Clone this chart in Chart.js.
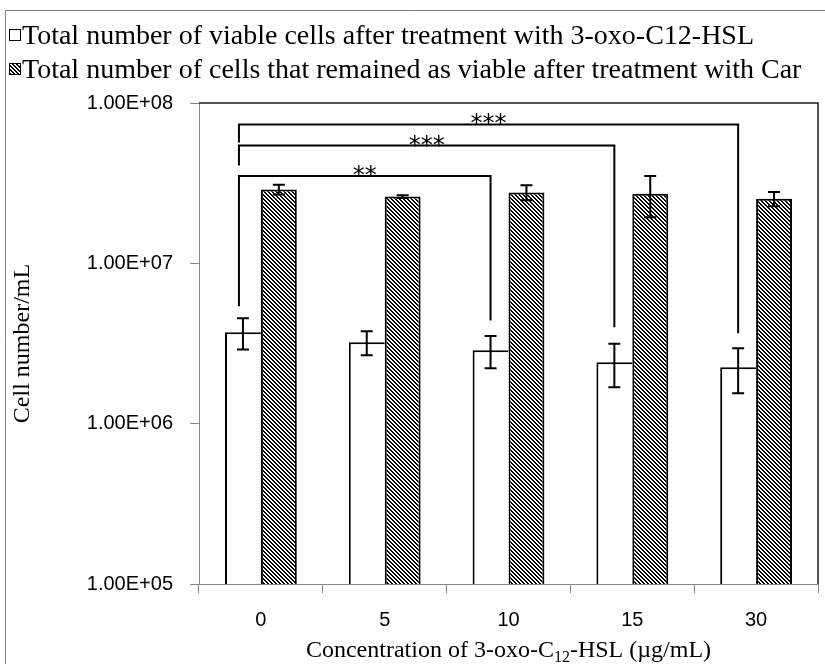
<!DOCTYPE html>
<html>
<head>
<meta charset="utf-8">
<script src="https://cdn.jsdelivr.net/npm/chart.js@4.4.0/dist/chart.umd.min.js"></script>
<style>
  html, body { margin: 0; padding: 0; background: #fff; }
  #wrap { width: 825px; height: 664px; }
</style>
</head>
<body>
<div id="wrap"><canvas id="myChart" width="825" height="664"></canvas></div>
<script>
const concentrations = ["0", "5", "10", "15", "30"];
const hslCells = [3.72e6, 3.22e6, 2.87e6, 2.42e6, 2.25e6];
const hslErr = [0.82e6, 0.55e6, 0.65e6, 0.73e6, 0.7e6];
const carCells = [2.89e7, 2.61e7, 2.77e7, 2.72e7, 2.53e7];
const carErr = [0.2e7, 0.05e7, 0.3e7, 0.78e7, 0.26e7];
const yTicks = [1e5, 1e6, 1e7, 1e8];

// significance brackets (group indexes, heights in cells/mL)
const bracketFrom = [0, 0, 0];
const bracketTo = [2, 3, 4];
const bracketTop = [3.5e7, 5.43e7, 7.35e7];
const bracketLeftEnd = [5.4e6, 4.08e7, 5.68e7];
const bracketRightEnd = [4.4e6, 3.99e6, 3.66e6];
const bracketLabel = ["**", "***", "***"];

const serif = "'Liberation Serif', 'Times New Roman', serif";
const sans = "'Liberation Sans Narrow', 'Liberation Sans', sans-serif";

const canvas = document.getElementById("myChart");
const ctx = canvas.getContext("2d");

// hatch pattern for the Car bars
function makeHatch() {
  const tile = document.createElement("canvas");
  tile.width = 4;
  tile.height = 4;
  const g = tile.getContext("2d");
  g.fillStyle = "#fff";
  g.fillRect(0, 0, 4, 4);
  g.fillStyle = "#000";
  for (let i = 0; i < 4; i++) {
    g.fillRect(i, i, 1, 1);
    g.fillRect((i + 1) % 4, i, 1, 1);
  }
  return ctx.createPattern(tile, "repeat");
}
const hatch = makeHatch();

function excelSci(v) {
  const parts = v.toExponential(2).split("e");
  const n = parseInt(parts[1], 10);
  return parts[0] + "E" + (n < 0 ? "-" : "+") + String(Math.abs(n)).padStart(2, "0");
}

// Legend ----------------------------------
const legendBoxes = {
  id: "legendBoxes",
  afterDraw(chart) {
    const c = chart.ctx;
    c.save();
    chart.data.datasets.forEach((ds, i) => {
      const base = 44 + i * 34;
      c.fillStyle = ds.backgroundColor;
      c.fillRect(9, base - 15, 12, 12);
      c.strokeStyle = "#000";
      c.lineWidth = 1;
      c.strokeRect(9.5, base - 14.5, 11, 11);
      c.fillStyle = "#000";
      c.font = "28px " + serif;
      c.textBaseline = "alphabetic";
      c.fillText(ds.label, 22, base);
    });
    c.restore();
  },
};

// Error bars ------------------------------
const errorBars = {
  id: "errorBars",
  afterDatasetsDraw(chart) {
    const c = chart.ctx;
    const y = chart.scales.y;
    c.save();
    c.strokeStyle = "#000";
    c.lineWidth = 2;
    [hslErr, carErr].forEach((err, d) => {
      const vals = chart.data.datasets[d].data;
      chart.getDatasetMeta(d).data.forEach((bar, i) => {
        const top = y.getPixelForValue(vals[i] + err[i]);
        const bot = y.getPixelForValue(vals[i] - err[i]);
        c.beginPath();
        c.moveTo(bar.x, top);
        c.lineTo(bar.x, bot);
        c.moveTo(bar.x - 6, top);
        c.lineTo(bar.x + 6, top);
        c.moveTo(bar.x - 6, bot);
        c.lineTo(bar.x + 6, bot);
        c.stroke();
      });
    });
    c.restore();
  },
};

// Significance brackets + frame + x title --
const extras = {
  id: "extras",
  afterDraw(chart) {
    const c = chart.ctx;
    const y = chart.scales.y;
    const area = chart.chartArea;
    const bars = chart.getDatasetMeta(0).data;
    c.save();
    // plot frame top / right
    c.strokeStyle = "#1a1a1a";
    c.lineWidth = 1.5;
    c.beginPath();
    c.moveTo(area.left, area.top);
    c.lineTo(area.right, area.top);
    c.lineTo(area.right, area.bottom);
    c.stroke();
    // outer border
    c.strokeStyle = "#7f7f7f";
    c.lineWidth = 1;
    c.beginPath();
    c.moveTo(5.5, chart.height);
    c.lineTo(5.5, 10.5);
    c.lineTo(chart.width, 10.5);
    c.stroke();
    // brackets
    c.strokeStyle = "#000";
    c.lineWidth = 2;
    c.fillStyle = "#000";
    c.font = "24px 'DejaVu Sans', sans-serif";
    c.textAlign = "center";
    c.textBaseline = "alphabetic";
    bracketLabel.forEach((lab, k) => {
      const x0 = bars[bracketFrom[k]].x - 4;
      const x1 = bars[bracketTo[k]].x;
      const yt = y.getPixelForValue(bracketTop[k]);
      c.beginPath();
      c.moveTo(x0, y.getPixelForValue(bracketLeftEnd[k]));
      c.lineTo(x0, yt);
      c.lineTo(x1, yt);
      c.lineTo(x1, y.getPixelForValue(bracketRightEnd[k]));
      c.stroke();
      c.fillText(lab, (x0 + x1) / 2, yt + 7);
    });
    // x axis title with subscript
    const partA = "Concentration of 3-oxo-C";
    const sub = "12";
    const partB = "-HSL (\u00b5g/mL)";
    c.textAlign = "left";
    c.font = "24px " + serif;
    const wA = c.measureText(partA).width;
    const wB = c.measureText(partB).width;
    c.font = "16px " + serif;
    const wS = c.measureText(sub).width;
    const x = (area.left + area.right) / 2 - (wA + wS + wB) / 2;
    const base = 657;
    c.font = "24px " + serif;
    c.fillText(partA, x, base);
    c.fillText(partB, x + wA + wS, base);
    c.font = "16px " + serif;
    c.fillText(sub, x + wA, base + 5);
    c.restore();
  },
};

const myChart = new Chart(ctx, {
  type: "bar",
  data: {
    labels: concentrations,
    datasets: [
      {
        label: "Total number of viable cells after treatment with 3-oxo-C12-HSL",
        data: hslCells,
        backgroundColor: "#ffffff",
        borderColor: "#000",
        borderWidth: { left: 2, top: 2, right: 0, bottom: 0 },
        borderSkipped: false,
        barPercentage: 1,
        categoryPercentage: 0.58,
      },
      {
        label: "Total number of cells that remained as viable after treatment with Car",
        data: carCells,
        backgroundColor: hatch,
        borderColor: "#000",
        borderWidth: 2,
        barPercentage: 1,
        categoryPercentage: 0.58,
      },
    ],
  },
  options: {
    responsive: false,
    animation: false,
    events: [],
    layout: { padding: { left: 8, top: 103, right: 7, bottom: 0 } },
    scales: {
      x: {
        offset: true,
        grid: { offset: true, drawOnChartArea: false, tickLength: 9, color: "#868686" },
        border: { color: "#868686" },
        ticks: { color: "#000", font: { family: sans, size: 20 }, padding: 15 },
        afterFit(scale) {
          scale.height = 80;
        },
      },
      y: {
        type: "logarithmic",
        min: 1e5,
        max: 1e8,
        afterBuildTicks(scale) {
          scale.ticks = yTicks.map((v) => ({ value: v }));
        },
        afterFit(scale) {
          scale.width = 191;
        },
        grid: { drawOnChartArea: false, tickLength: 9, color: "#868686" },
        border: { color: "#868686" },
        ticks: {
          color: "#000",
          font: { family: sans, size: 20 },
          padding: 17,
          callback: (v) => excelSci(v),
        },
        title: {
          display: true,
          text: "Cell number/mL",
          color: "#000",
          font: { family: serif, size: 24 },
          padding: { top: 0, bottom: 0 },
        },
      },
    },
    plugins: {
      legend: { display: false },
      tooltip: { enabled: false },
    },
  },
  plugins: [errorBars, extras, legendBoxes],
});
</script>
</body>
</html>
